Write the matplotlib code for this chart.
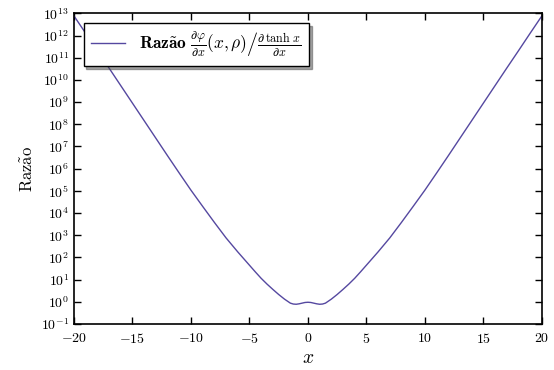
import matplotlib
matplotlib.use("Agg")
import matplotlib.pyplot as plt
import numpy as np

plt.rcParams['mathtext.fontset'] = 'cm'
plt.rcParams['font.family'] = 'serif'
plt.rcParams['font.serif'] = ['cmr10', 'DejaVu Serif']
plt.rcParams['axes.formatter.use_mathtext'] = True
plt.rcParams['axes.unicode_minus'] = True

# razão entre as derivadas, lida ponto a ponto (log10 do valor)
x_pts = [-20, -19, -18, -17, -16, -15, -14, -13, -12, -11, -10, -9, -8, -7, -6,
         -5, -4.5, -4, -3.5, -3, -2.5, -2, -1.5, -1.25, -1, -0.75, -0.5, -0.25, 0,
         0.25, 0.5, 0.75, 1, 1.25, 1.5, 2, 2.5, 3, 3.5, 4, 4.5, 5, 6, 7, 8, 9, 10,
         11, 12, 13, 14, 15, 16, 17, 18, 19, 20]
log_razao = [12.88, 12.10, 11.31, 10.53, 9.74, 8.95, 8.16, 7.37, 6.58, 5.80,
             5.03, 4.30, 3.58, 2.88, 2.25, 1.65, 1.35, 1.06, 0.80, 0.56, 0.33,
             0.12, -0.06, -0.10, -0.11, -0.09, -0.06, -0.03, -0.02,
             -0.03, -0.06, -0.09, -0.11, -0.10, -0.06, 0.12, 0.33, 0.56, 0.80,
             1.06, 1.35, 1.65, 2.25, 2.88, 3.58, 4.30, 5.03, 5.80, 6.58, 7.37,
             8.16, 8.95, 9.74, 10.53, 11.31, 12.10, 12.88]
x_ticks = [-20, -15, -10, -5, 0, 5, 10, 15, 20]
y_ticks = [10.0 ** k for k in range(-1, 14)]

razao = 10.0 ** np.array(log_razao)

fig = plt.figure(figsize=(5.54, 3.70), dpi=100)
ax = fig.add_axes([0.1336, 0.1243, 0.8444, 0.8397])

ax.semilogy(x_pts, razao, color='#5548a0', lw=1.0,
            label=r'$\mathbf{Raz\tilde{a}o}\ \frac{\partial\varphi}{\partial x}(x,\rho)'
                  r'\left/\frac{\partial\,\tanh\,x}{\partial x}\right.$')

ax.set_xlim(-20, 20)
ax.set_ylim(1e-1, 1e13)
ax.set_xticks(x_ticks)
ax.set_yticks(y_ticks)
ax.yaxis.set_minor_locator(matplotlib.ticker.NullLocator())
ax.tick_params(direction='in', top=True, right=True, length=5, width=1,
               labelsize=10)
ax.tick_params(axis='x', pad=6)
for s in ax.spines.values():
    s.set_linewidth(1.2)

ax.set_xlabel(r'$x$', fontsize=14, labelpad=2)
ax.set_ylabel(r'$\mathrm{Raz\tilde{a}o}$', fontsize=12)

leg = ax.legend(loc='upper left', fancybox=False, shadow=True, fontsize=12.5,
                borderaxespad=0.55, handlelength=2.0)
leg.get_frame().set_edgecolor('black')
leg.get_frame().set_linewidth(1.0)

fig.savefig('out.png', dpi=100)
